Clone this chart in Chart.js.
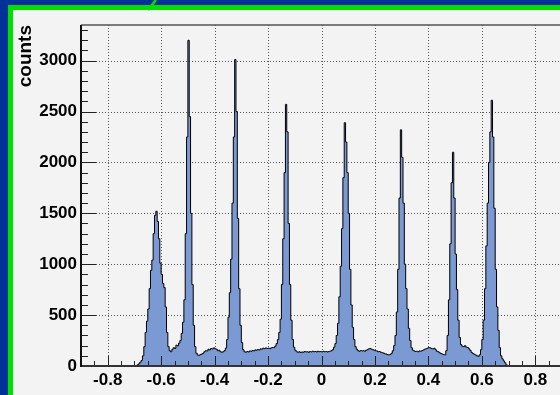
<!DOCTYPE html>
<html>
<head>
<meta charset="utf-8">
<script src="https://cdn.jsdelivr.net/npm/chart.js@4.4.1/dist/chart.umd.min.js"></script>
<style>
html,body{margin:0;padding:0;overflow:hidden;background:#f3f3f3;}
canvas{display:block;}
</style>
</head>
<body>
<canvas id="c" width="600" height="395"></canvas>
<script>
// histogram binning: 280 bins of 0.005 starting at -0.70
const binLow = -0.70;
const binWidth = 0.005;
const counts = [
  0,4,12,22,38,55,100,190,330,440,560,760,940,1040,1300,1480,1520,1420,1250,1010,
  900,810,770,580,330,190,150,140,165,180,172,205,198,225,250,320,430,650,1300,2250,
  3200,2450,1500,800,400,190,125,108,105,112,118,125,140,150,148,165,158,172,168,178,
  170,165,150,155,140,135,140,150,175,260,480,720,1050,1600,2250,3010,2500,1450,760,400,
  230,160,140,135,142,138,148,145,152,148,158,155,162,158,168,165,175,170,178,172,
  176,170,178,182,180,195,220,260,330,460,800,1250,1900,2570,2300,1400,800,450,260,185,
  155,140,135,140,132,138,135,142,138,140,135,142,138,145,140,143,138,145,140,142,
  138,145,140,143,138,142,145,150,160,185,220,300,420,680,980,1350,1850,2390,2200,1900,
  1500,950,600,380,260,190,165,150,145,152,148,150,145,155,160,168,172,165,160,155,
  150,148,140,142,135,130,128,120,118,112,108,112,125,150,200,300,530,950,1650,2320,
  2050,1600,1000,760,560,370,250,180,155,148,142,145,140,148,145,152,158,165,170,175,
  182,178,172,168,175,160,145,140,130,122,118,112,110,150,300,650,1200,1800,2100,1650,
  1100,750,450,280,210,195,190,200,185,182,170,152,132,122,115,108,100,95,110,160,
  260,450,760,1180,1600,2000,2300,2610,2250,1550,950,580,350,180,100,70,50,32,12,0
];
const xTicks = [-0.8,-0.6,-0.4,-0.2,0,0.2,0.4,0.6,0.8];
const yTicks = [0,500,1000,1500,2000,2500,3000];
const xRange = [-0.9, 0.9];
const yRange = [0, 3350];
const xMinorStep = 0.05;
const yMinorStep = 100;
const yTitle = 'counts';

const FONT = '"Liberation Sans", Arial, Helvetica, sans-serif';

// left edges of every bin, plus the closing edge
const points = counts.map((c, i) => ({x: binLow + i * binWidth, y: c}));
points.push({x: binLow + counts.length * binWidth, y: 0});

const rootStyle = {
  id: 'rootStyle',
  beforeDraw(chart){
    const {ctx, width, height} = chart;
    ctx.save();
    ctx.fillStyle = '#f3f3f3'; ctx.fillRect(0, 0, width, height);
    ctx.fillStyle = '#003399'; ctx.fillRect(0, 0, 8, height); ctx.fillRect(0, 0, width, 5);
    ctx.fillStyle = '#00e000'; ctx.fillRect(8, 5, 5, height); ctx.fillRect(8, 5, width, 5);
    ctx.strokeStyle = '#00e000'; ctx.lineWidth = 2.5;
    ctx.beginPath(); ctx.moveTo(156, 0); ctx.lineTo(148, 10); ctx.stroke();
    ctx.restore();
  },
  beforeDatasetsDraw(chart){
    const {ctx, chartArea: a, scales: {x, y}} = chart;
    ctx.save();
    ctx.strokeStyle = '#555'; ctx.lineWidth = 1; ctx.setLineDash([1, 2]);
    xTicks.forEach(v => {
      const px = Math.round(x.getPixelForValue(v)) + 0.5;
      ctx.beginPath(); ctx.moveTo(px, a.top); ctx.lineTo(px, a.bottom); ctx.stroke();
    });
    yTicks.forEach(v => {
      if (v === 0) return;
      const py = Math.round(y.getPixelForValue(v)) + 0.5;
      ctx.beginPath(); ctx.moveTo(a.left, py); ctx.lineTo(a.right, py); ctx.stroke();
    });
    ctx.restore();
  },
  afterDatasetsDraw(chart){
    const {ctx, chartArea: a, scales: {x, y}} = chart;
    ctx.save();
    ctx.strokeStyle = '#222'; ctx.lineWidth = 1;
    // x ticks, inward
    for (let k = 0; xRange[0] + k * xMinorStep <= xRange[1] + 1e-9; k++){
      const v = xRange[0] + k * xMinorStep;
      const major = xTicks.some(t => Math.abs(t - v) < 1e-6);
      const px = Math.round(x.getPixelForValue(v)) + 0.5;
      const len = major ? 10 : 5;
      ctx.beginPath(); ctx.moveTo(px, a.bottom); ctx.lineTo(px, a.bottom - len); ctx.stroke();
    }
    // y ticks, inward
    for (let k = 0; k * yMinorStep <= yRange[1]; k++){
      const v = k * yMinorStep;
      const major = v % 500 === 0;
      const py = Math.round(y.getPixelForValue(v)) + 0.5;
      const len = major ? 15 : 7;
      ctx.beginPath(); ctx.moveTo(a.left, py); ctx.lineTo(a.left + len, py); ctx.stroke();
    }
    // frame / axes
    ctx.strokeStyle = '#555'; ctx.lineWidth = 1.5;
    ctx.beginPath(); ctx.moveTo(a.left, a.top); ctx.lineTo(a.right, a.top); ctx.stroke();
    ctx.strokeStyle = '#333'; ctx.lineWidth = 2;
    ctx.beginPath(); ctx.moveTo(a.left, a.bottom); ctx.lineTo(a.right, a.bottom); ctx.stroke();
    ctx.strokeStyle = '#111';
    ctx.beginPath(); ctx.moveTo(a.left, a.top); ctx.lineTo(a.left, a.bottom + 1); ctx.stroke();
    ctx.restore();
  },
  afterDraw(chart){
    const {ctx, chartArea: a} = chart;
    ctx.save();
    ctx.translate(31, a.top);
    ctx.rotate(-Math.PI / 2);
    ctx.font = 'bold 19px ' + FONT;
    ctx.fillStyle = '#000';
    ctx.textAlign = 'right';
    ctx.textBaseline = 'alphabetic';
    ctx.fillText(yTitle, 0, 0);
    ctx.restore();
  }
};

new Chart(document.getElementById('c'), {
  type: 'line',
  data: {datasets: [{
    data: points,
    stepped: true,
    fill: 'origin',
    backgroundColor: '#7b99d3',
    borderColor: '#000',
    borderWidth: 1,
    pointRadius: 0
  }]},
  options: {
    responsive: false,
    animation: false,
    devicePixelRatio: 1,
    layout: {padding: {left: 0, top: 25, right: 38, bottom: 0}},
    plugins: {legend: {display: false}, tooltip: {enabled: false}},
    scales: {
      x: {
        type: 'linear', min: xRange[0], max: xRange[1],
        afterBuildTicks: s => { s.ticks = xTicks.map(v => ({value: v})); },
        afterFit: s => { s.height = 29; },
        grid: {display: false, drawTicks: false},
        border: {display: false},
        ticks: {padding: 4, color: '#000', autoSkip: false, maxRotation: 0,
          font: {family: FONT, size: 17, weight: 'bold'}, callback: v => String(v)}
      },
      y: {
        min: yRange[0], max: yRange[1],
        afterBuildTicks: s => { s.ticks = yTicks.map(v => ({value: v})); },
        afterFit: s => { s.width = 81; },
        grid: {display: false, drawTicks: false},
        border: {display: false},
        ticks: {padding: 4, color: '#000',
          font: {family: FONT, size: 17, weight: 'bold'}, callback: v => String(v)}
      }
    }
  },
  plugins: [rootStyle]
});
</script>
</body>
</html>
